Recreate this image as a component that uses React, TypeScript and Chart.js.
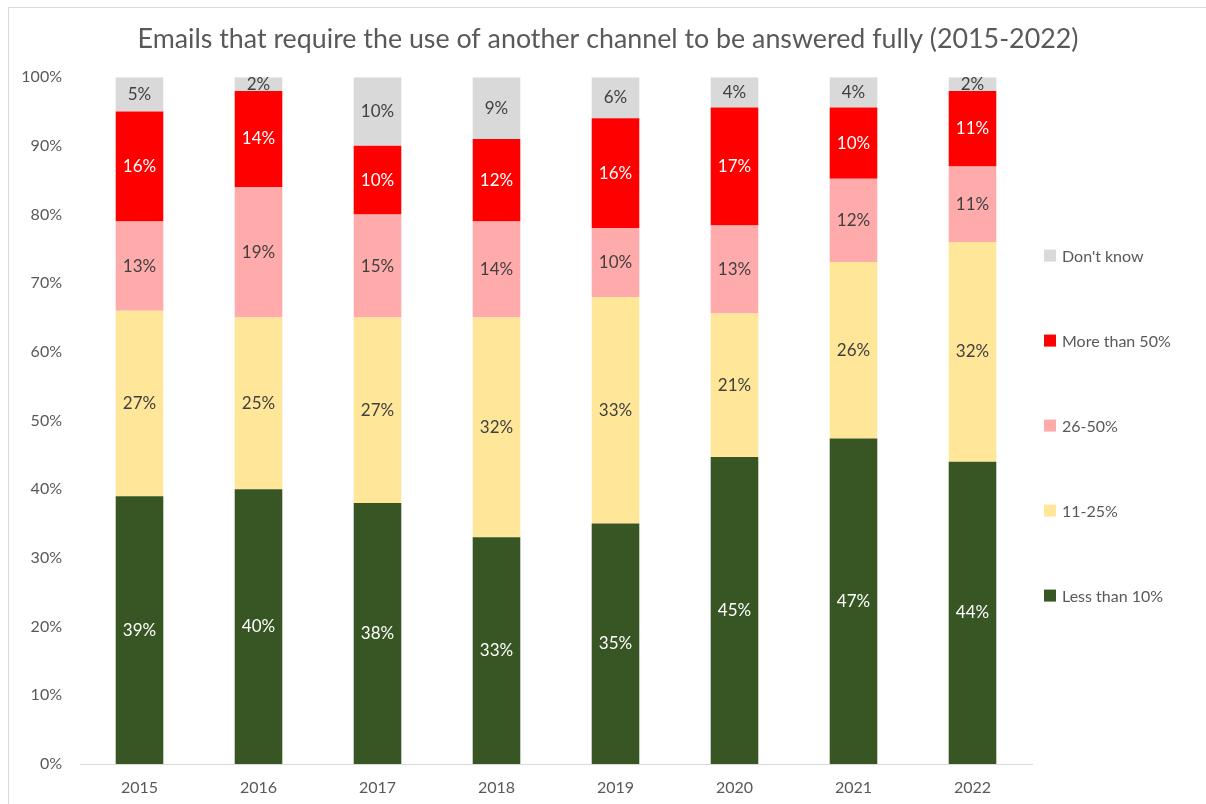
import React, { useEffect, useRef } from "react";
import { Chart, registerables } from "chart.js";

Chart.register(...registerables);

const years = ["2015", "2016", "2017", "2018", "2019", "2020", "2021", "2022"];
const lessThan10 = [39, 40, 38, 33, 35, 44.7, 47.4, 44];
const from11to25 = [27, 25, 27, 32, 33, 20.9, 25.7, 32];
const from26to50 = [13, 19, 15, 14, 10, 12.8, 12.1, 11];
const moreThan50 = [16, 14, 10, 12, 16, 17.2, 10.4, 11];
const dontKnow = [5, 2, 10, 9, 6, 4.4, 4.4, 2];
const yTicks = [0, 10, 20, 30, 40, 50, 60, 70, 80, 90, 100];

const FONT = "Lato, 'Open Sans', sans-serif";
const TEXT = "#595959";

const series = [
  { label: "Less than 10%", data: lessThan10, color: "#375623", text: "#ffffff" },
  { label: "11-25%", data: from11to25, color: "#FFE699", text: "#404040" },
  { label: "26-50%", data: from26to50, color: "#FFABAB", text: "#404040" },
  { label: "More than 50%", data: moreThan50, color: "#FF0000", text: "#ffffff" },
  { label: "Don't know", data: dontKnow, color: "#D9D9D9", text: "#404040" },
];

const labelPlugin = {
  id: "segLabels",
  afterDatasetsDraw(chart: any) {
    const ctx = chart.ctx;
    ctx.save();
    ctx.font = `17px ${FONT}`;
    ctx.textAlign = "center";
    ctx.textBaseline = "middle";
    chart.data.datasets.forEach((ds: any, i: number) => {
      const meta = chart.getDatasetMeta(i);
      meta.data.forEach((el: any, j: number) => {
        const v = ds.data[j];
        const cy = (el.y + el.base) / 2;
        ctx.fillStyle = series[i].text;
        ctx.fillText(Math.round(v) + "%", el.x, cy);
      });
    });
    ctx.restore();
  },
};

const legendPlugin = {
  id: "sideLegend",
  afterDraw(chart: any) {
    const ctx = chart.ctx;
    const area = chart.chartArea;
    const mid = (area.top + area.bottom) / 2 + 5;
    const gap = 85;
    ctx.save();
    ctx.font = `16px ${FONT}`;
    ctx.textAlign = "left";
    ctx.textBaseline = "middle";
    const items = [...series].reverse();
    items.forEach((s, k) => {
      const y = mid + (k - 2) * gap;
      const x = area.right + 12;
      ctx.fillStyle = s.color;
      ctx.fillRect(x, y - 6, 12, 12);
      ctx.fillStyle = TEXT;
      ctx.fillText(s.label, x + 18, y + 1);
    });
    ctx.restore();
  },
};

export default function App() {
  const ref = useRef<HTMLCanvasElement | null>(null);
  useEffect(() => {
    if (!ref.current) return;
    const chart = new Chart(ref.current, {
      type: "bar",
      data: {
        labels: years,
        datasets: series.map((s) => ({
          label: s.label,
          data: s.data,
          backgroundColor: s.color,
          borderWidth: 0,
          barPercentage: 0.4,
          categoryPercentage: 1,
        })),
      },
      options: {
        animation: false,
        responsive: false,
        layout: { padding: { left: 0, right: 0, top: 0, bottom: 0 } },
        plugins: {
          legend: { display: false },
          tooltip: { enabled: false },
          title: {
            display: true,
            text: "Emails that require the use of another channel to be answered fully (2015-2022)",
            color: TEXT,
            font: { family: FONT, size: 26.8, weight: "normal" },
            padding: { top: 15, bottom: 22 },
          },
        },
        scales: {
          x: {
            stacked: true,
            grid: { display: false, drawTicks: false },
            border: { display: true, color: "#d9d9d9", width: 1 },
            ticks: { color: TEXT, font: { family: FONT, size: 16 }, padding: 14 },
            afterFit: (s: any) => {
              s.height = 42;
            },
          },
          y: {
            stacked: true,
            min: 0,
            max: 100,
            afterBuildTicks: (s: any) => {
              s.ticks = yTicks.map((v) => ({ value: v }));
            },
            grid: { display: false, drawTicks: false },
            border: { display: false },
            ticks: {
              color: TEXT,
              font: { family: FONT, size: 16 },
              padding: 18,
              callback: (v: any) => v + "%",
            },
            afterFit: (s: any) => {
              s.width = 71;
            },
          },
          legendSpace: {
            type: "linear",
            position: "right",
            display: true,
            grid: { display: false, drawTicks: false },
            border: { display: false },
            ticks: { display: false },
            afterFit: (s: any) => {
              s.width = 175;
            },
          },
        },
      },
      plugins: [labelPlugin, legendPlugin],
    });
    return () => chart.destroy();
  }, []);
  return (
    <div
      style={{
        position: "fixed",
        left: 8,
        top: 7,
        width: 1200,
        height: 800,
        border: "1px solid #d9d9d9",
        boxSizing: "border-box",
        background: "#fff",
      }}
    >
      <canvas ref={ref} width={1198} height={798} style={{ display: "block" }} />
    </div>
  );
}
